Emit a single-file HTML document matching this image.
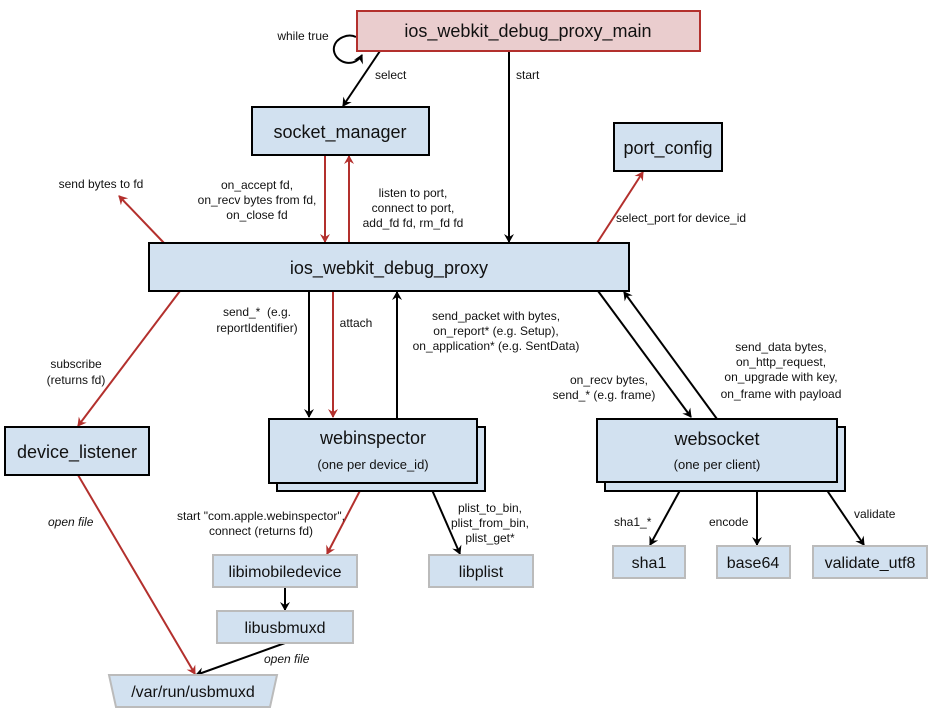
<!DOCTYPE html>
<html><head><meta charset="utf-8"><style>
html,body{margin:0;padding:0;background:#fff;}
svg{display:block;}
text{font-family:"Liberation Sans",Arial,sans-serif;fill:#111;}
.s{font-size:12px;}
.b{font-size:18px;}
.m{font-size:16px;}
.i{font-size:12px;font-style:italic;}
</style></head><body>
<svg width="932" height="717" viewBox="0 0 932 717" xmlns="http://www.w3.org/2000/svg">
<defs>
<marker id="ak" markerWidth="10" markerHeight="10" refX="8" refY="5" orient="auto" markerUnits="userSpaceOnUse"><path d="M0,0 L9,5 L0,10 L3,5 Z" fill="#000"/></marker>
<marker id="ar" markerWidth="10" markerHeight="10" refX="8" refY="5" orient="auto" markerUnits="userSpaceOnUse"><path d="M0,0 L9,5 L0,10 L3,5 Z" fill="#b3302d"/></marker>
</defs>
<g stroke-width="2" fill="none">
<path d="M356,37 C348,33 336,38 334,47 C332,58 346,67 356,61 C359,59 361,57 362,55" stroke="#000" marker-end="url(#ak)"/>
<line x1="380" y1="51" x2="343" y2="106" stroke="#000" marker-end="url(#ak)"/>
<line x1="509" y1="51" x2="509" y2="242" stroke="#000" marker-end="url(#ak)"/>
<line x1="325" y1="155" x2="325" y2="242" stroke="#b3302d" marker-end="url(#ar)"/>
<line x1="349" y1="242" x2="349" y2="156" stroke="#b3302d" marker-end="url(#ar)"/>
<line x1="164" y1="243" x2="119" y2="196" stroke="#b3302d" marker-end="url(#ar)"/>
<line x1="597" y1="243" x2="643" y2="172" stroke="#b3302d" marker-end="url(#ar)"/>
<line x1="180" y1="291" x2="78" y2="426" stroke="#b3302d" marker-end="url(#ar)"/>
<line x1="309" y1="291" x2="309" y2="417" stroke="#000" marker-end="url(#ak)"/>
<line x1="333" y1="291" x2="333" y2="417" stroke="#b3302d" marker-end="url(#ar)"/>
<line x1="397" y1="419" x2="397" y2="292" stroke="#000" marker-end="url(#ak)"/>
<line x1="598" y1="291" x2="691" y2="417" stroke="#000" marker-end="url(#ak)"/>
<line x1="717" y1="419" x2="624" y2="292" stroke="#000" marker-end="url(#ak)"/>
<line x1="364" y1="483" x2="327" y2="554" stroke="#b3302d" marker-end="url(#ar)"/>
<line x1="429" y1="483" x2="460" y2="554" stroke="#000" marker-end="url(#ak)"/>
<line x1="285" y1="587" x2="285" y2="610" stroke="#000" marker-end="url(#ak)"/>
<line x1="285" y1="643" x2="196" y2="675" stroke="#000" marker-end="url(#ak)"/>
<line x1="78" y1="475" x2="195" y2="674" stroke="#b3302d" marker-end="url(#ar)"/>
<line x1="684" y1="483" x2="650" y2="545" stroke="#000" marker-end="url(#ak)"/>
<line x1="757" y1="483" x2="757" y2="545" stroke="#000" marker-end="url(#ak)"/>
<line x1="822" y1="483" x2="864" y2="545" stroke="#000" marker-end="url(#ak)"/>
</g>
<rect x="357" y="11" width="343" height="40" fill="#eacdce" stroke="#b3302d" stroke-width="2"/>
<text class="b" x="528" y="37" text-anchor="middle">ios_webkit_debug_proxy_main</text>
<rect x="252" y="107" width="177" height="48" fill="#d2e1f0" stroke="#000" stroke-width="2"/>
<text class="b" x="340" y="138" text-anchor="middle">socket_manager</text>
<rect x="614" y="123" width="108" height="48" fill="#d2e1f0" stroke="#000" stroke-width="2"/>
<text class="b" x="668" y="154" text-anchor="middle">port_config</text>
<rect x="149" y="243" width="480" height="48" fill="#d2e1f0" stroke="#000" stroke-width="2"/>
<text class="b" x="389" y="274" text-anchor="middle">ios_webkit_debug_proxy</text>
<rect x="5" y="427" width="144" height="48" fill="#d2e1f0" stroke="#000" stroke-width="2"/>
<text class="b" x="77" y="458" text-anchor="middle">device_listener</text>
<rect x="277" y="427" width="208" height="64" fill="#d2e1f0" stroke="#000" stroke-width="2"/>
<rect x="269" y="419" width="208" height="64" fill="#d2e1f0" stroke="#000" stroke-width="2"/>
<text class="b" x="373" y="444" text-anchor="middle">webinspector</text>
<text class="s" x="373" y="469" text-anchor="middle" style="font-size:13px">(one per device_id)</text>
<rect x="605" y="427" width="240" height="64" fill="#d2e1f0" stroke="#000" stroke-width="2"/>
<rect x="597" y="419" width="240" height="63" fill="#d2e1f0" stroke="#000" stroke-width="2"/>
<text class="b" x="717" y="445" text-anchor="middle">websocket</text>
<text class="s" x="717" y="469" text-anchor="middle" style="font-size:13px">(one per client)</text>
<g fill="#d2e1f0" stroke="#bbb" stroke-width="2">
<rect x="213" y="555" width="144" height="32"/>
<rect x="217" y="611" width="136" height="32"/>
<rect x="429" y="555" width="104" height="32"/>
<rect x="613" y="546" width="72" height="32"/>
<rect x="717" y="546" width="73" height="32"/>
<rect x="813" y="546" width="114" height="32"/>
<polygon points="109,675 277,675 270,707 116,707"/>
</g>
<text class="m" x="285" y="577" text-anchor="middle">libimobiledevice</text>
<text class="m" x="285" y="633" text-anchor="middle">libusbmuxd</text>
<text class="m" x="481" y="577" text-anchor="middle">libplist</text>
<text class="m" x="649" y="568" text-anchor="middle">sha1</text>
<text class="m" x="753" y="568" text-anchor="middle">base64</text>
<text class="m" x="870" y="568" text-anchor="middle">validate_utf8</text>
<text class="m" x="193" y="697" text-anchor="middle">/var/run/usbmuxd</text>
<text class="s" x="303" y="40" text-anchor="middle">while true</text>
<text class="s" x="375" y="79">select</text>
<text class="s" x="516" y="79">start</text>
<text class="s" x="101" y="188" text-anchor="middle">send bytes to fd</text>
<g class="s" text-anchor="middle">
<text class="s" x="257" y="189">on_accept fd,</text>
<text class="s" x="257" y="204">on_recv bytes from fd,</text>
<text class="s" x="257" y="219">on_close fd</text>
<text class="s" x="413" y="197">listen to port,</text>
<text class="s" x="413" y="212">connect to port,</text>
<text class="s" x="413" y="227">add_fd fd, rm_fd fd</text>
<text class="s" x="257" y="316" xml:space="preserve">send_*  (e.g.</text>
<text class="s" x="257" y="332">reportIdentifier)</text>
<text class="s" x="356" y="327">attach</text>
<text class="s" x="496" y="320">send_packet with bytes,</text>
<text class="s" x="496" y="335">on_report* (e.g. Setup),</text>
<text class="s" x="496" y="350">on_application* (e.g. SentData)</text>
<text class="s" x="609" y="384">on_recv bytes,</text>
<text class="s" x="604" y="399">send_* (e.g. frame)</text>
<text class="s" x="781" y="351">send_data bytes,</text>
<text class="s" x="781" y="366">on_http_request,</text>
<text class="s" x="781" y="381">on_upgrade with key,</text>
<text class="s" x="781" y="398">on_frame with payload</text>
<text class="s" x="76" y="368">subscribe</text>
<text class="s" x="76" y="384">(returns fd)</text>
<text class="s" x="261" y="520">start "com.apple.webinspector",</text>
<text class="s" x="261" y="535">connect (returns fd)</text>
<text class="s" x="490" y="512">plist_to_bin,</text>
<text class="s" x="490" y="527">plist_from_bin,</text>
<text class="s" x="490" y="542">plist_get*</text>
</g>
<text class="s" x="616" y="222">select_port for device_id</text>
<text class="i" x="48" y="526">open file</text>
<text class="i" x="264" y="663">open file</text>
<text class="s" x="614" y="526">sha1_*</text>
<text class="s" x="709" y="526">encode</text>
<text class="s" x="854" y="518">validate</text>
</svg>
</body></html>
